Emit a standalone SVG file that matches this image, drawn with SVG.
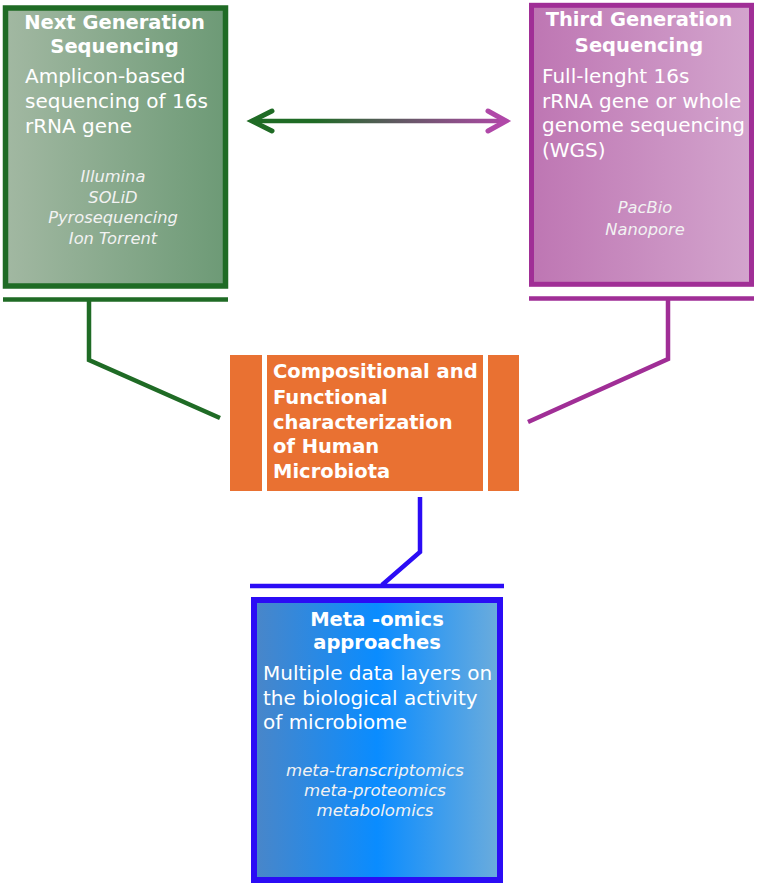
<svg xmlns="http://www.w3.org/2000/svg" width="757" height="885" viewBox="0 0 757 885">
<defs>
<linearGradient id="gGreen" x1="0" y1="0" x2="1" y2="0">
<stop offset="0" stop-color="#a2b8a2"/><stop offset="1" stop-color="#6d9a76"/>
</linearGradient>
<linearGradient id="gPurple" x1="0" y1="0" x2="1" y2="0">
<stop offset="0" stop-color="#be76b3"/><stop offset="1" stop-color="#d3a4cd"/>
</linearGradient>
<linearGradient id="gBlue" x1="0" y1="0" x2="1" y2="0">
<stop offset="0" stop-color="#4a86c8"/><stop offset="0.5" stop-color="#0a8cff"/><stop offset="1" stop-color="#6cacdc"/>
</linearGradient>
<linearGradient id="gArrow" gradientUnits="userSpaceOnUse" x1="250" y1="0" x2="508" y2="0">
<stop offset="0" stop-color="#1f6b25"/><stop offset="0.25" stop-color="#1f6b25"/><stop offset="0.55" stop-color="#5c5a5e"/><stop offset="1" stop-color="#b048a8"/>
</linearGradient>
</defs>
<style>
.t{font-family:"DejaVu Sans",Verdana,sans-serif;fill:#fff}
.h{font-weight:bold;font-size:19.5px}
.b{font-size:20px}
.i{font-style:italic;font-size:16.3px;fill:#f2f2f2}
.c{fill:none;stroke-width:4.5}
</style>
<g id="connectors">
<path class="c" d="M3,299.5 H228 M89,299.5 V360 L220,418" stroke="#1f6b25"/>
<path class="c" d="M529,298.5 H754 M668,298.5 V359 L528,422" stroke="#a02e96"/>
<path class="c" d="M420,497 V552 L382,585 M250,586 H504" stroke="#2b0cf5"/>
<path d="M254,121 H504" stroke="url(#gArrow)" stroke-width="4.5" fill="none"/>
<path d="M272,111 L252,121 L272,131" stroke="#1f6b25" stroke-width="5" fill="none" stroke-linecap="round" stroke-linejoin="miter"/>
<path d="M488,111 L506,121 L488,131" stroke="#b048a8" stroke-width="5" fill="none" stroke-linecap="round" stroke-linejoin="miter"/>
</g>
<g id="ngs">
<rect x="5.5" y="8" width="220" height="278" fill="url(#gGreen)" stroke="#1f6b25" stroke-width="5.5"/>
<text class="t h" text-anchor="middle" x="114.5" y="29">Next Generation</text>
<text class="t h" text-anchor="middle" x="114.5" y="53">Sequencing</text>
<text class="t b" x="25" y="83">Amplicon-based</text>
<text class="t b" x="25" y="108">sequencing of 16s</text>
<text class="t b" x="25" y="133">rRNA gene</text>
<text class="t i" text-anchor="middle" x="113" y="182">Illumina</text>
<text class="t i" text-anchor="middle" x="113" y="202.5">SOLiD</text>
<text class="t i" text-anchor="middle" x="113" y="223">Pyrosequencing</text>
<text class="t i" text-anchor="middle" x="113" y="243.5">Ion Torrent</text>
</g>
<g id="tgs">
<rect x="531.5" y="5.3" width="220" height="279" fill="url(#gPurple)" stroke="#a02e96" stroke-width="5"/>
<text class="t h" text-anchor="middle" x="639" y="26">Third Generation</text>
<text class="t h" text-anchor="middle" x="639" y="52">Sequencing</text>
<text class="t b" x="542" y="83">Full-lenght 16s</text>
<text class="t b" x="542" y="107.5">rRNA gene or whole</text>
<text class="t b" x="542" y="132">genome sequencing</text>
<text class="t b" x="542" y="156.5">(WGS)</text>
<text class="t i" text-anchor="middle" x="645" y="213">PacBio</text>
<text class="t i" text-anchor="middle" x="645" y="235">Nanopore</text>
</g>
<g id="center">
<rect x="230" y="355" width="32" height="136" fill="#e97132"/>
<rect x="267" y="355" width="216" height="136" fill="#e97132"/>
<rect x="488" y="355" width="31" height="136" fill="#e97132"/>
<text class="t h" x="273" y="378">Compositional and</text>
<text class="t h" x="273" y="403.5">Functional</text>
<text class="t h" x="273" y="428.5">characterization</text>
<text class="t h" x="273" y="453">of Human</text>
<text class="t h" x="273" y="478">Microbiota</text>
</g>
<g id="meta">
<rect x="254" y="600" width="246" height="280" fill="url(#gBlue)" stroke="#2b0cf5" stroke-width="6"/>
<text class="t h" text-anchor="middle" x="377" y="626">Meta -omics</text>
<text class="t h" text-anchor="middle" x="377" y="649">approaches</text>
<text class="t b" x="263" y="680">Multiple data layers on</text>
<text class="t b" x="263" y="705">the biological activity</text>
<text class="t b" x="263" y="729">of microbiome</text>
<text class="t i" style="font-size:16.6px" text-anchor="middle" x="375" y="776">meta-transcriptomics</text>
<text class="t i" style="font-size:16.6px" text-anchor="middle" x="375" y="796">meta-proteomics</text>
<text class="t i" style="font-size:16.6px" text-anchor="middle" x="375" y="816">metabolomics</text>
</g>
</svg>
